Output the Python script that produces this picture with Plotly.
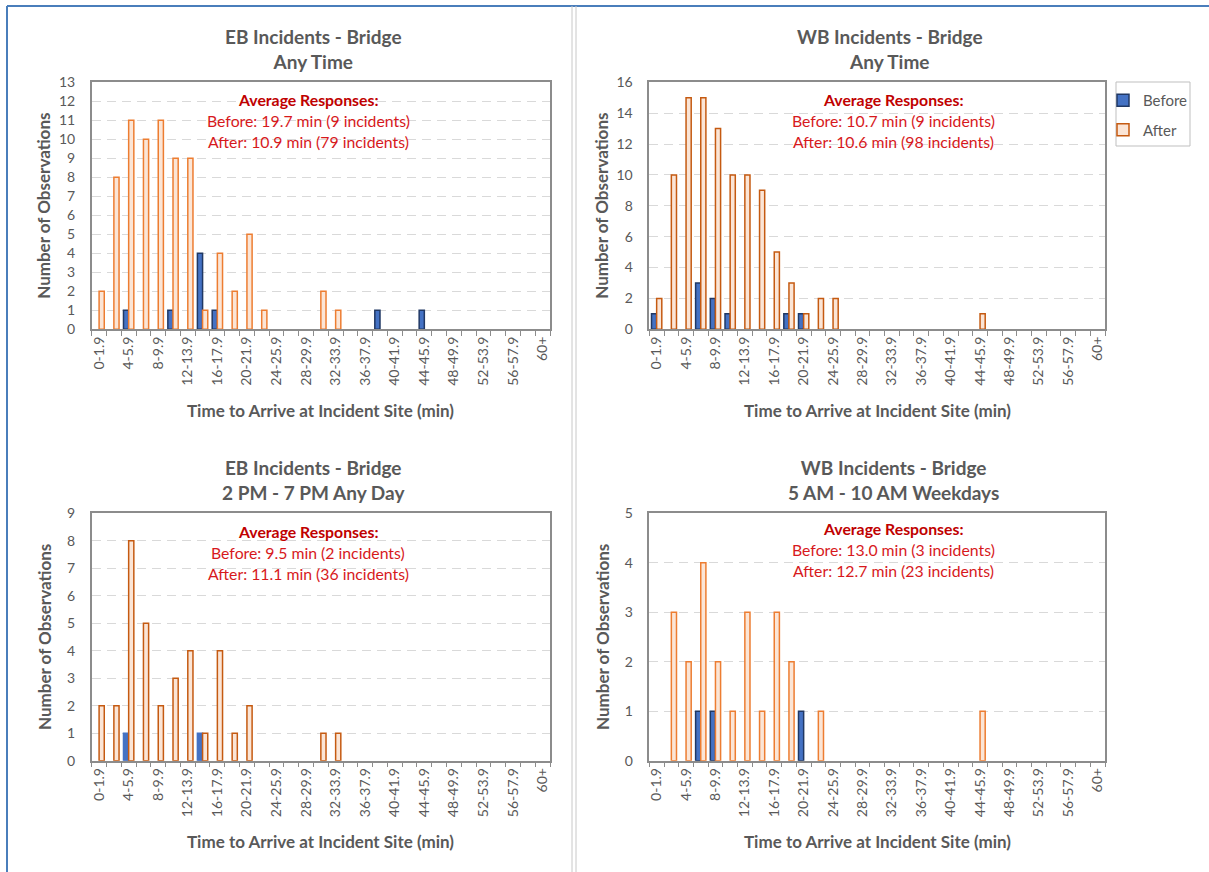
import plotly.graph_objects as go

W, H = 1209, 872

# Response-time bins (minutes)
categories = ["0-1.9", "2-3.9", "4-5.9", "6-7.9", "8-9.9", "10-11.9", "12-13.9", "14-15.9",
              "16-17.9", "18-19.9", "20-21.9", "22-23.9", "24-25.9", "26-27.9", "28-29.9",
              "30-31.9", "32-33.9", "34-35.9", "36-37.9", "38-39.9", "40-41.9", "42-43.9",
              "44-45.9", "46-47.9", "48-49.9", "50-51.9", "52-53.9", "54-55.9", "56-57.9",
              "58-59.9", "60+"]

# Counts per bin
eb_any_before = [0, 0, 1, 0, 0, 1, 0, 4, 1, 0, 0, 0, 0, 0, 0, 0, 0, 0, 0, 1, 0, 0, 1, 0, 0, 0, 0, 0, 0, 0, 0]
eb_any_after = [2, 8, 11, 10, 11, 9, 9, 1, 4, 2, 5, 1, 0, 0, 0, 2, 1, 0, 0, 0, 0, 0, 0, 0, 0, 0, 0, 0, 0, 0, 0]
wb_any_before = [1, 0, 0, 3, 2, 1, 0, 0, 0, 1, 1, 0, 0, 0, 0, 0, 0, 0, 0, 0, 0, 0, 0, 0, 0, 0, 0, 0, 0, 0, 0]
wb_any_after = [2, 10, 15, 15, 13, 10, 10, 9, 5, 3, 1, 2, 2, 0, 0, 0, 0, 0, 0, 0, 0, 0, 1, 0, 0, 0, 0, 0, 0, 0, 0]
eb_pm_before = [0, 0, 1, 0, 0, 0, 0, 1, 0, 0, 0, 0, 0, 0, 0, 0, 0, 0, 0, 0, 0, 0, 0, 0, 0, 0, 0, 0, 0, 0, 0]
eb_pm_after = [2, 2, 8, 5, 2, 3, 4, 1, 4, 1, 2, 0, 0, 0, 0, 1, 1, 0, 0, 0, 0, 0, 0, 0, 0, 0, 0, 0, 0, 0, 0]
wb_am_before = [0, 0, 0, 1, 1, 0, 0, 0, 0, 0, 1, 0, 0, 0, 0, 0, 0, 0, 0, 0, 0, 0, 0, 0, 0, 0, 0, 0, 0, 0, 0]
wb_am_after = [0, 3, 2, 4, 2, 1, 3, 1, 3, 2, 0, 1, 0, 0, 0, 0, 0, 0, 0, 0, 0, 0, 1, 0, 0, 0, 0, 0, 0, 0, 0]

titles = ["EB Incidents - Bridge<br>Any Time", "WB Incidents - Bridge<br>Any Time",
          "EB Incidents - Bridge<br>2 PM - 7 PM Any Day", "WB Incidents - Bridge<br>5 AM - 10 AM Weekdays"]
avg_before = ["Before: 19.7 min (9 incidents)", "Before: 10.7 min (9 incidents)",
              "Before: 9.5 min (2 incidents)", "Before: 13.0 min (3 incidents)"]
avg_after = ["After: 10.9 min (79 incidents)", "After: 10.6 min (98 incidents)",
             "After: 11.1 min (36 incidents)", "After: 12.7 min (23 incidents)"]
y_max = [13, 16, 9, 5]
y_step = [1, 2, 1, 1]

FONT = "Lato, Carlito, Calibri, sans-serif"
GRAY = "#595959"
BLUE_FILL = "#4472C4"
ORANGE_FILL = "#FBE5D6"
blue_line = ["#203864", "#203864", "#4472C4", "#203864"]
orange_line = ["#ED7D31", "#C55A11", "#C55A11", "#ED7D31"]

def px(x):
    return x / W

def py(y):
    return 1 - y / H

def outline(values, width=1.5):
    # no outline on empty bins so zero bars stay invisible
    return [width if v else 0 for v in values]

# panel layout in pixels: (left, right, top, bottom)
panels = [(91.7, 550.0, 82.3, 329.3), (649.3, 1105.0, 82.3, 329.3),
          (91.7, 550.0, 513.3, 760.7), (649.3, 1105.0, 513.3, 760.7)]
data_sets = [(eb_any_before, eb_any_after), (wb_any_before, wb_any_after),
             (eb_pm_before, eb_pm_after), (wb_am_before, wb_am_after)]
title_pos = [(313, 49), (890, 49), (313, 480), (893, 480)]
note_pos = [(308, 99), (893, 99), (308, 531), (893, 528)]
note_box = [(185, 430, 88, 151), (782, 1002, 88, 152), (185, 432, 520, 583), (782, 1002, 517, 580)]
ytitle_x = [44, 602, 44, 602]
xtitle_y = [410, 410, 841, 841]

fig = go.Figure()
annotations = []
shapes = []
tick_text = [c if i % 2 == 0 else "" for i, c in enumerate(categories)]

for k in range(4):
    before, after = data_sets[k]
    sfx = "" if k == 0 else str(k + 1)
    fig.add_trace(go.Bar(
        x=categories, y=before, name="Before", xaxis="x" + sfx, yaxis="y" + sfx,
        marker=dict(color=BLUE_FILL, line=dict(color=blue_line[k], width=outline(before))),
        showlegend=(k == 1), legendgroup="before"))
    fig.add_trace(go.Bar(
        x=categories, y=after, name="After", xaxis="x" + sfx, yaxis="y" + sfx,
        marker=dict(color=ORANGE_FILL, line=dict(color=orange_line[k], width=outline(after))),
        showlegend=(k == 1), legendgroup="after"))

    l, r, t, b = panels[k]
    fig.layout["xaxis" + sfx] = dict(
        domain=[px(l), px(r)], anchor="y" + sfx, type="category", automargin=False,
        tickmode="array", tickvals=categories, ticktext=tick_text, tickson="boundaries",
        ticks="outside", ticklen=5, tickcolor="#8C8C8C", tickangle=-90,
        tickfont=dict(family=FONT, size=14, color=GRAY),
        showline=True, linecolor="#8C8C8C", linewidth=1.5, mirror=True,
        showgrid=False, zeroline=False, fixedrange=True)
    fig.layout["yaxis" + sfx] = dict(
        domain=[py(b), py(t)], anchor="x" + sfx, range=[0, y_max[k]], dtick=y_step[k],
        automargin=False, ticks="outside", ticklen=12, tickcolor="rgba(0,0,0,0)",
        tickfont=dict(family=FONT, size=14, color=GRAY),
        showline=True, linecolor="#8C8C8C", linewidth=1.5, mirror=True,
        showgrid=True, gridcolor="#D9D9D9", gridwidth=1.3, griddash="9px,6px",
        zeroline=False, fixedrange=True)

    tx, ty = title_pos[k]
    annotations.append(dict(text="<b>" + titles[k].replace("<br>", "</b><br><b>") + "</b>",
                            x=px(tx), y=py(ty), xref="paper", yref="paper",
                            xanchor="center", yanchor="middle", showarrow=False,
                            font=dict(family=FONT, size=19, color=GRAY)))
    # white backing behind the average-response note
    bx0, bx1, by0, by1 = note_box[k]
    shapes.append(dict(type="rect", xref="paper", yref="paper", layer="between",
                       x0=px(bx0), x1=px(bx1), y0=py(by1), y1=py(by0),
                       fillcolor="white", line=dict(width=0)))
    nx, ny = note_pos[k]
    annotations.append(dict(text="<b>Average Responses:</b>", x=px(nx), y=py(ny),
                            xref="paper", yref="paper", xanchor="center", yanchor="middle",
                            showarrow=False, font=dict(family=FONT, size=15.8, color="#C00000")))
    annotations.append(dict(text=avg_before[k], x=px(nx), y=py(ny + 21),
                            xref="paper", yref="paper", xanchor="center", yanchor="middle",
                            showarrow=False, font=dict(family=FONT, size=15.8, color="#D7191C")))
    annotations.append(dict(text=avg_after[k], x=px(nx), y=py(ny + 42),
                            xref="paper", yref="paper", xanchor="center", yanchor="middle",
                            showarrow=False, font=dict(family=FONT, size=15.8, color="#D7191C")))
    annotations.append(dict(text="<b>Number of Observations</b>", x=px(ytitle_x[k]),
                            y=py((t + b) / 2), xref="paper", yref="paper",
                            xanchor="center", yanchor="middle", textangle=-90, showarrow=False,
                            font=dict(family=FONT, size=17, color=GRAY)))
    annotations.append(dict(text="<b>Time to Arrive at Incident Site (min)</b>",
                            x=px((l + r) / 2), y=py(xtitle_y[k]), xref="paper", yref="paper",
                            xanchor="center", yanchor="middle", showarrow=False,
                            font=dict(family=FONT, size=17, color=GRAY)))

# outer frame, divider between the chart columns, and the legend box
shapes += [
    dict(type="line", xref="paper", yref="paper", x0=px(7), x1=1, y0=py(6), y1=py(6),
         line=dict(color="#4A7EBB", width=2)),
    dict(type="line", xref="paper", yref="paper", x0=px(7), x1=px(7), y0=py(6), y1=0,
         line=dict(color="#4A7EBB", width=2)),
    dict(type="line", xref="paper", yref="paper", x0=px(572), x1=px(572), y0=py(6), y1=0,
         line=dict(color="#C8C8C8", width=1)),
    dict(type="line", xref="paper", yref="paper", x0=px(576), x1=px(576), y0=py(6), y1=0,
         line=dict(color="#C8C8C8", width=1)),
    dict(type="rect", xref="paper", yref="paper", x0=px(1116), x1=px(1190),
         y0=py(146), y1=py(82), line=dict(color="#BFBFBF", width=1)),
]

fig.update_layout(
    template="none",
    width=W, height=H, margin=dict(l=0, r=0, t=0, b=0, pad=0), autosize=False,
    paper_bgcolor="white", plot_bgcolor="white",
    barmode="group", bargap=0.3, bargroupgap=0.0,
    annotations=annotations, shapes=shapes,
    legend=dict(x=px(1103), y=py(84), xanchor="left", yanchor="top",
                borderwidth=0, bgcolor="rgba(0,0,0,0)",
                traceorder="grouped", tracegroupgap=7, itemwidth=30,
                font=dict(family=FONT, size=15, color=GRAY)),
    font=dict(family=FONT, color=GRAY),
)

fig.write_html("out.html")
